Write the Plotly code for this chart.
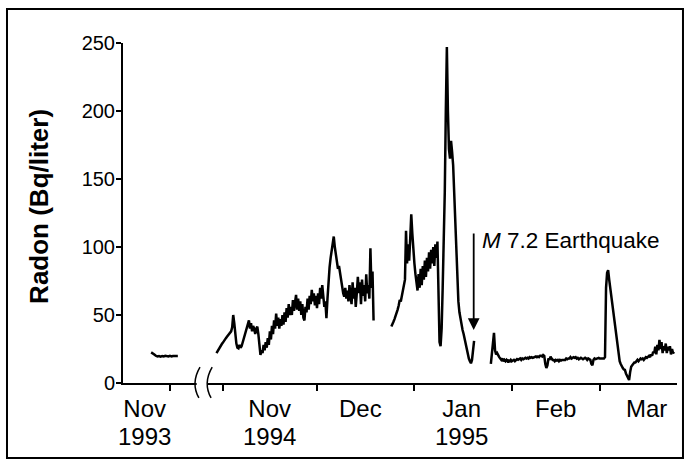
import pandas as pd
import plotly.graph_objects as go

# ---------------- data ----------------
# Nov 1993 segment (12-hourly samples)
seg93_start = "1993-11-25 00:00"
seg93_freq = "12h"
seg93_vals = [22.5, 22, 21, 20, 19.5, 19.8, 19.4, 19.8, 19.5, 20, 19.7, 19.5,
              20, 19.6, 19.8, 20, 19.7, 19.9]

# Late Oct - mid Dec 1994 (8-hourly samples)
segB_start = "1994-10-30 00:00"
segB_freq = "8h"
segB_vals = [
    22, 23.5, 25, 26, 27.5, 28.5, 29.5, 31, 32, 33, 34, 35, 36, 37, 38,
    41, 50, 44, 36, 29, 26, 25.5, 28, 26, 27, 30, 33, 36, 38, 42,
    44, 46, 40, 44, 38, 42, 40, 36, 40, 41.5, 36, 28, 20.6, 24, 22,
    28, 24, 30, 26, 33, 28, 38, 32, 42, 36, 46, 40, 51, 42, 48,
    40, 47, 42, 50, 43, 52, 45, 55, 48, 58, 50, 56, 50, 61, 53,
    59, 64.8, 54, 62, 53, 60, 50, 58, 48, 46, 56, 52, 62, 54, 64,
    58, 68.5, 60, 66, 57, 64, 55, 66, 58, 70, 62, 72, 64, 56, 60,
    47.6, 62, 76, 85, 92, 98, 102, 107.7, 100, 94, 88, 84, 86, 80, 76,
    72, 66, 63.5, 70, 62, 68, 60, 72, 64, 58, 74, 62, 70, 56, 66,
    78, 66, 74, 58, 76, 64, 72, 60, 80, 66, 72, 62, 99, 70, 82, 46,
]

# Late Dec 1994 - Jan 1995 (8-hourly samples)
segC_start = "1994-12-24 16:00"
segC_freq = "8h"
segC_vals = [
    41.5, 44, 45, 47, 49, 52, 54, 57, 61, 60, 64, 66, 70, 76, 112,
    88, 102, 90, 106, 124, 110, 96, 88, 80, 74, 68, 80, 70, 84, 72,
    86, 76, 90, 78, 92, 82, 96, 84, 98, 88, 100, 86, 102, 92, 104,
    60, 30, 27, 40, 70, 100, 140, 200, 247, 200, 172, 165, 178, 170, 160,
    140, 118, 96, 72, 60, 52, 47, 43, 39, 36, 32, 29, 26, 22, 18,
    16, 14.5, 17, 24, 31,
]

# Late Jan - Mar 1995 (8-hourly samples)
segD_start = "1995-01-25 08:00"
segD_freq = "8h"
segD_vals = [
    14, 22, 30, 36.8, 24, 21, 22, 20, 19, 18, 17, 18, 16, 17, 16,
    17, 16, 16.5, 16, 17, 16, 16.5, 17, 16, 17, 17.5, 17, 17.5, 18, 17,
    18, 17.5, 18, 18.5, 18, 18.5, 18, 19, 18.5, 19, 18.5, 19, 19, 19.5, 19,
    19.5, 19, 20, 20, 19.5, 20.6, 20, 14, 11, 13, 18, 17, 19.4, 18, 17,
    17, 16, 17, 16.5, 17, 16, 17, 16.5, 17, 17, 17.5, 17, 18, 17.5, 18,
    18, 19, 18, 18.5, 19, 18.5, 19, 18, 18.5, 17.5, 18, 18.5, 18, 17.5, 18,
    18.5, 18, 17, 18, 17.5, 17, 14, 13, 17, 18, 17.5, 18, 18, 18.5, 18,
    18, 18.5, 18, 18, 19, 70, 81, 83, 76, 70, 64, 58, 50, 44, 38,
    33, 26, 20, 16, 14, 12, 11, 10, 9.6, 7, 5, 3, 2.2, 8, 12,
    13, 14, 15, 15, 16, 17, 16, 17, 18, 17.5, 18, 17, 18, 19, 18.5,
    19.4, 20, 19, 21, 20, 23, 22, 26.7, 21, 28, 24, 31.7, 25, 30, 22,
    27, 24, 29, 22, 26.7, 24, 27, 21, 25, 22, 22.8,
]

month_ticks = ["1993-12-01", "1994-11-01", "1994-12-01", "1995-01-01",
               "1995-02-01", "1995-03-01"]
month_label_pos = ["1993-11-23", "1994-11-16", "1994-12-15", "1995-01-16",
                   "1995-02-15", "1995-03-16"]
month_label_text = ["Nov", "Nov", "Dec", "Jan", "Feb", "Mar"]
month_label_year = ["1993", "1994", "", "1995", "", ""]

quake_date = "1995-01-19 21:00"
quake_text = "<i>M</i> 7.2 Earthquake"

y_ticks = [0, 50, 100, 150, 200, 250]

# ---------------- figure ----------------
fig = go.Figure()
segments = [
    (seg93_start, seg93_freq, seg93_vals),
    (segB_start, segB_freq, segB_vals),
    (segC_start, segC_freq, segC_vals),
    (segD_start, segD_freq, segD_vals),
]
for start, freq, vals in segments:
    xs = pd.date_range(start, periods=len(vals), freq=freq)
    fig.add_trace(go.Scatter(x=xs, y=vals, mode="lines",
                             line=dict(color="black", width=2.5),
                             showlegend=False, hoverinfo="skip"))

font_main = "Liberation Sans, Arial, Helvetica, sans-serif"

fig.update_xaxes(
    type="date",
    range=["1993-11-16 01:00", "1995-03-25 14:00"],
    rangebreaks=[dict(bounds=["1993-12-10 12:00", "1994-10-24 17:00"])],
    tickmode="array", tickvals=month_ticks, showticklabels=False,
    ticks="outside", ticklen=6, tickwidth=1.5, tickcolor="black",
    showline=True, linecolor="black", linewidth=2,
    showgrid=False, zeroline=False,
)
fig.update_yaxes(
    range=[0, 250], tickmode="array", tickvals=y_ticks,
    ticks="outside", ticklen=5, tickwidth=1.5, tickcolor="black",
    tickfont=dict(family=font_main, size=20, color="black"),
    ticklabelstandoff=-3,
    showline=True, linecolor="black", linewidth=2,
    showgrid=False, zeroline=False,
)

big = '<span style="font-size:24px">%s</span>'
annotations = []
for pos, mon, yr in zip(month_label_pos, month_label_text, month_label_year):
    txt = big % mon
    if yr:
        txt += "<br>" + big % yr
    annotations.append(dict(x=pos, y=0, xref="x", yref="paper", text=txt,
                            showarrow=False, yanchor="top", yshift=-10,
                            font=dict(family=font_main, size=21.5,
                                      color="black")))
# y-axis title
annotations.append(dict(x=-0.1516, y=0.518, xref="paper", yref="paper",
                        text="<b>Radon (Bq/liter)</b>", textangle=-90,
                        showarrow=False, xanchor="center", yanchor="middle",
                        font=dict(family=font_main, size=26, color="black")))
# earthquake arrow
annotations.append(dict(x=quake_date, y=39, xref="x", yref="y", text="",
                        showarrow=True, ax=0, ay=-98, arrowhead=2,
                        arrowsize=1.3, arrowwidth=1.8, arrowcolor="black"))
annotations.append(dict(x=quake_date, y=104.6, xref="x", yref="y",
                        text=quake_text, showarrow=False, xanchor="left",
                        yanchor="middle", xshift=6,
                        font=dict(family=font_main, size=22.5, color="black")))

shapes = [
    # outer frame
    dict(type="rect", xref="paper", yref="paper",
         x0=-0.2094, x1=1.0108, y0=-0.2206, y1=1.1,
         line=dict(color="black", width=2), fillcolor="rgba(0,0,0,0)"),
    # axis-break gap and marks
    dict(type="rect", xref="paper", yref="paper",
         x0=0.133, x1=0.153, y0=-0.01, y1=0.01,
         line=dict(width=0), fillcolor="white"),
    dict(type="path", xref="paper", yref="paper",
         path="M 0.139,0.047 Q 0.122,0.0 0.137,-0.044",
         line=dict(color="black", width=1.5)),
    dict(type="path", xref="paper", yref="paper",
         path="M 0.161,0.047 Q 0.144,0.0 0.159,-0.044",
         line=dict(color="black", width=1.5)),
]

fig.update_layout(
    width=686, height=461,
    margin=dict(l=123, r=9, t=43, b=78),
    paper_bgcolor="white", plot_bgcolor="white",
    annotations=annotations, shapes=shapes,
    font=dict(family=font_main, color="black"),
)

fig.write_html("out.html",
               config={"displayModeBar": False},
               post_script="document.body.style.margin='0';"
                           "document.body.style.padding='0';")
